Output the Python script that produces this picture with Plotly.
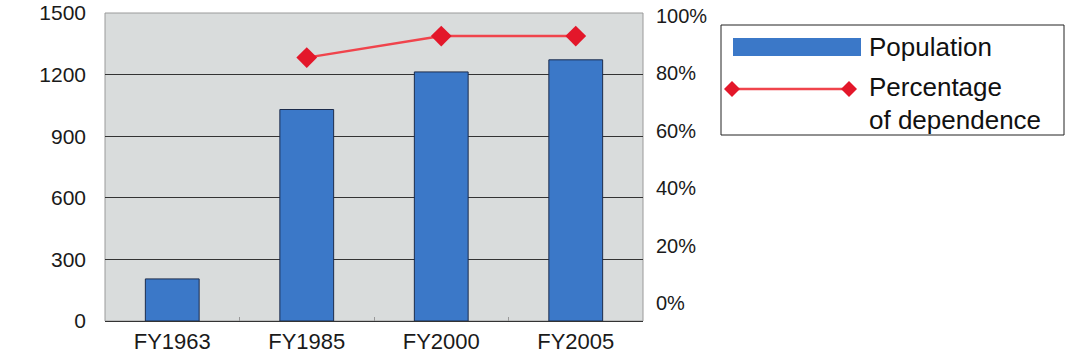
import plotly.graph_objects as go

# ---- data ----
categories = ["FY1963", "FY1985", "FY2000", "FY2005"]
population = [205, 1030, 1213, 1272]
dependence = [None, 85.5, 93, 93]  # percent
left_ticks = [0, 300, 600, 900, 1200, 1500]
right_ticks = [0, 20, 40, 60, 80, 100]
right_labels = ["0%", "20%", "40%", "60%", "80%", "100%"]

W, H = 1066, 356
L, R, T, B = 105, 643, 13, 321  # plot area in pixels

def px(x):
    return (x - L) / (R - L)

def py(y):
    return (B - y) / (B - T)

# right axis: 0% sits at y=303 px, 100% at y=16 px in the reference
Y0, Y100 = 303, 16
pp = (Y0 - Y100) / 100.0
r_range = [-(B - Y0) / pp, 100 + (Y100 - T) / pp]

FONT = "Liberation Sans, Arial, sans-serif"
BAR_COLOR = "#3b78c8"
LINE_COLOR = "#f0444c"
MARK_COLOR = "#e3172a"

fig = go.Figure()
fig.add_trace(go.Bar(
    x=categories, y=population, name="Population",
    marker=dict(color=BAR_COLOR, line=dict(color="#1c2c4c", width=1)),
    showlegend=False,
))
fig.add_trace(go.Scatter(
    x=categories, y=dependence, name="Percentage of dependence", yaxis="y2",
    mode="lines+markers",
    line=dict(color=LINE_COLOR, width=2.5),
    marker=dict(symbol="diamond", size=16, color=MARK_COLOR),
    showlegend=False,
))

shapes = [
    dict(type="rect", xref="paper", yref="paper", x0=0, x1=1, y0=0, y1=1,
         line=dict(color="#9a9a9a", width=1), layer="below"),
    # legend box
    dict(type="rect", xref="paper", yref="paper", x0=px(721), x1=px(1064), y0=py(25), y1=py(135),
         line=dict(color="#222222", width=1), fillcolor="white"),
    # legend bar swatch
    dict(type="rect", xref="paper", yref="paper", x0=px(733), x1=px(861), y0=py(38), y1=py(56),
         line=dict(width=0), fillcolor=BAR_COLOR),
    # legend line
    dict(type="line", xref="paper", yref="paper", x0=px(732), x1=px(849), y0=py(89), y1=py(89),
         line=dict(color=LINE_COLOR, width=2.5)),
]
for cx in (732, 849):
    cy = 89
    d = 8
    path = "M {} {} L {} {} L {} {} L {} {} Z".format(
        px(cx), py(cy - d), px(cx + d), py(cy), px(cx), py(cy + d), px(cx - d), py(cy))
    shapes.append(dict(type="path", xref="paper", yref="paper", path=path,
                       fillcolor=MARK_COLOR, line=dict(width=0)))

LEG_FONT = dict(family=FONT, size=26, color="#111111")
annotations = [
    dict(text="Population", x=px(867), y=py(47), xref="paper", yref="paper",
         xanchor="left", yanchor="middle", showarrow=False, font=LEG_FONT),
    dict(text="Percentage", x=px(867), y=py(87), xref="paper", yref="paper",
         xanchor="left", yanchor="middle", showarrow=False, font=LEG_FONT),
    dict(text="of dependence", x=px(867), y=py(120), xref="paper", yref="paper",
         xanchor="left", yanchor="middle", showarrow=False, font=LEG_FONT),
]

fig.update_layout(
    template="none",
    width=W, height=H,
    margin=dict(l=L, r=W - R, t=T, b=H - B, pad=0),
    paper_bgcolor="white",
    plot_bgcolor="#d9dcdc",
    bargap=0.6,
    showlegend=False,
    font=dict(family=FONT, color="#1a1a1a"),
    xaxis=dict(
        type="category", categoryorder="array", categoryarray=categories,
        automargin=False,
        showline=True, linecolor="#333333", linewidth=1,
        ticks="inside", tickson="boundaries", ticklen=4, tickcolor="#999999",
        showgrid=False, tickfont=dict(size=22), ticklabelstandoff=1,
    ),
    yaxis=dict(
        range=[0, 1500], tickvals=left_ticks, showgrid=True, automargin=False,
        gridcolor="#333333", gridwidth=1, zeroline=False, ticks="",
        showline=False, tickfont=dict(size=21), ticklabelstandoff=18,
        ticklabeloverflow="allow",
    ),
    yaxis2=dict(
        overlaying="y", side="right", range=r_range, automargin=False,
        tickvals=right_ticks, ticktext=right_labels, showgrid=False, zeroline=False,
        ticks="", showline=False, tickfont=dict(size=20), ticklabelstandoff=12,
        ticklabeloverflow="allow",
    ),
    shapes=shapes,
    annotations=annotations,
)

fig.write_html("out.html")
